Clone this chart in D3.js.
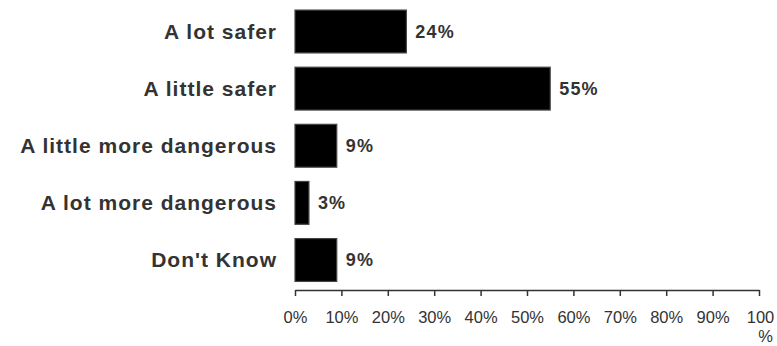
<!DOCTYPE html>
<html>
<head>
<meta charset="utf-8">
<script src="https://cdn.jsdelivr.net/npm/d3@7/dist/d3.min.js"></script>
<style>
  html, body { margin: 0; padding: 0; background: #fff; }
  svg { display: block; font-family: "Liberation Sans", Arial, Helvetica, sans-serif; }
</style>
</head>
<body>
<svg id="chart" width="777" height="346"></svg>
<script>
// Survey answers and the share of respondents for each
const categories = ["A lot safer", "A little safer", "A little more dangerous", "A lot more dangerous", "Don't Know"];
const values = [24, 55, 9, 3, 9];
const tickValues = [0, 10, 20, 30, 40, 50, 60, 70, 80, 90, 100];

const svg = d3.select("#chart");

const x = d3.scaleLinear().domain([0, 100]).range([295, 759]);
const y = d3.scaleBand().domain(categories).range([1.5, 290])
  .paddingInner(0.25).paddingOuter(0.15);

const rows = categories.map((c, i) => ({ category: c, value: values[i] }));

// Bars
svg.append("g").selectAll("rect").data(rows).join("rect")
  .attr("x", x(0))
  .attr("y", d => y(d.category))
  .attr("width", d => x(d.value) - x(0))
  .attr("height", y.bandwidth())
  .attr("fill", "#000")
  .attr("stroke", "#444")
  .attr("stroke-width", 1.2);

// Category labels
svg.append("g").selectAll("text").data(rows).join("text")
  .attr("x", 277)
  .attr("y", d => y(d.category) + y.bandwidth() / 2)
  .attr("dy", "0.35em")
  .attr("text-anchor", "end")
  .attr("font-weight", "bold")
  .attr("font-size", 21)
  .attr("letter-spacing", 1)
  .attr("fill", "#333")
  .text(d => d.category);

// Value labels at the end of each bar
svg.append("g").selectAll("text").data(rows).join("text")
  .attr("x", d => x(d.value) + 9)
  .attr("y", d => y(d.category) + y.bandwidth() / 2)
  .attr("dy", "0.35em")
  .attr("font-weight", "bold")
  .attr("font-size", 18)
  .attr("letter-spacing", 1.2)
  .attr("fill", "#333")
  .text(d => d.value + "%");

// Percentage axis
const axis = d3.axisBottom(x).tickValues(tickValues).tickSize(6).tickSizeOuter(0).tickFormat(d => d + "%");
const gx = svg.append("g").attr("transform", "translate(0,290)").call(axis);
gx.select(".domain").attr("stroke", "#333").attr("stroke-width", 1.5);
gx.selectAll(".tick line").attr("stroke", "#333").attr("stroke-width", 1.5);
gx.selectAll(".tick text")
  .attr("font-family", "\"Liberation Sans\", Arial, sans-serif")
  .attr("font-size", 16.5)
  .attr("fill", "#333")
  .attr("y", 21)
  .attr("dy", "0.71em");

// The last label wraps its percent sign onto a second line
gx.selectAll(".tick text").filter(d => d === 100).each(function () {
  const t = d3.select(this).text("");
  t.append("tspan").attr("x", 1).text("100");
  t.append("tspan").attr("x", 6).attr("dy", "1.15em").text("%");
});
</script>
</body>
</html>
